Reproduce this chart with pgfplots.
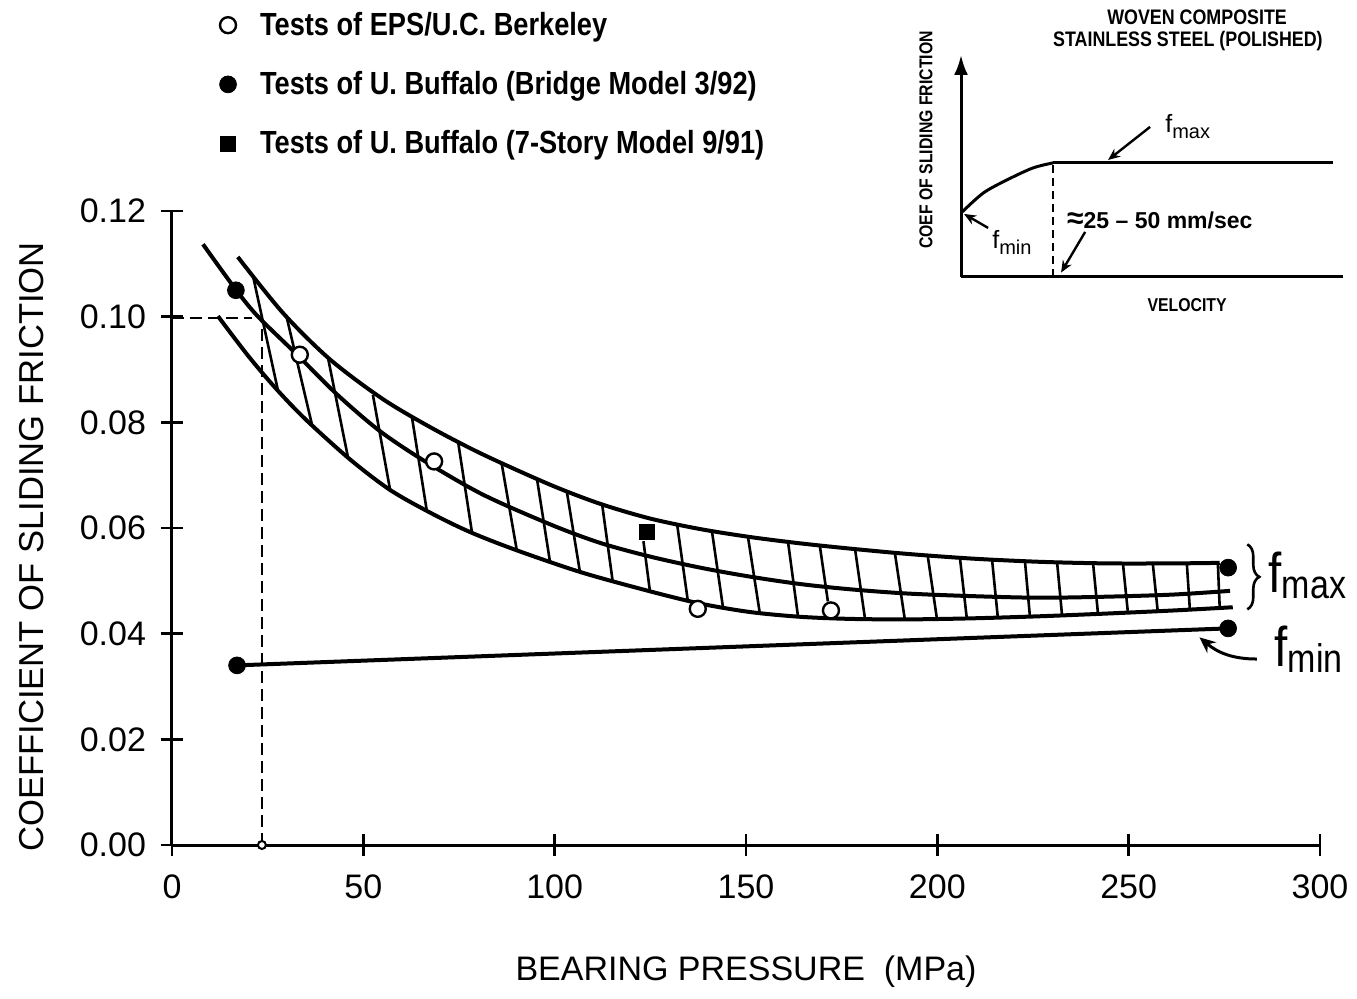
\documentclass[border=0pt]{standalone}
\usepackage{fontspec}
\setmainfont{Liberation Sans}
\newfontfamily\cond[FakeStretch=0.85]{Liberation Sans}
\usepackage{pgfplots}
\pgfplotsset{compat=1.18}
\usetikzlibrary{decorations.pathreplacing,arrows.meta}

\begin{document}
\begin{tikzpicture}[x=1pt,y=1pt]
\useasboundingbox (0,0) rectangle (678.5,499);
% ---------------- main axis ----------------
\begin{axis}[
  at={(86pt,76.5pt)}, anchor=south west,
  scale only axis, width=574pt, height=317pt,
  xmin=0, xmax=300, ymin=0, ymax=0.12,
  axis x line*=bottom, axis y line*=left,
  axis line style={line width=1.5pt},
  tick align=center, major tick length=11pt,
  tick style={line width=1.2pt, black},
  xtick={0,50,100,150,200,250,300},
  ytick={0,0.02,0.04,0.06,0.08,0.10,0.12},
  scaled y ticks=false,
  /pgf/number format/assume math mode=true,
  yticklabel style={/pgf/number format/fixed, /pgf/number format/fixed zerofill, /pgf/number format/precision=2, xshift=-4pt},
  xticklabel style={yshift=-6pt},
  tick label style={font=\fontsize{17}{17}\selectfont},
  clip=false,
  xlabel={BEARING PRESSURE\ \ (MPa)},
  ylabel={COEFFICIENT OF SLIDING FRICTION},
  xlabel style={at={(axis description cs:0.5,-0.2)}, anchor=center, font=\fontsize{17}{17}\selectfont},
  ylabel style={at={(axis description cs:-0.122,0.47)}, anchor=center, font=\fontsize{17.3}{17.3}\selectfont},
  legend style={at={(axis description cs:0.0293,1.327)}, anchor=north west, draw=none, fill=none,
     font=\cond\bfseries\fontsize{16}{16}\selectfont, row sep=12.5pt},
  legend cell align=left,
  legend image code/.code={\path[draw=none,fill=none] (0pt,0pt) -- (22pt,0pt);
     \draw[#1] plot[only marks] coordinates {(8pt,0pt)};},
]
% band curves
\addplot[smooth, line width=2pt, forget plot] coordinates {
 (17.2,0.1113) (29.0,0.1007) (41.3,0.0919) (55.1,0.0844) (68.2,0.0788) (81.3,0.0739)
 (98.8,0.0682) (111.8,0.0646) (124.9,0.0618) (138.0,0.0598) (151.0,0.0583) (164.1,0.0571)
 (177.2,0.0561) (192.1,0.0551) (209.3,0.0542) (226.8,0.0536) (244.3,0.0533) (261.6,0.0533) (273.8,0.0534)};
\addplot[smooth, line width=2pt, forget plot] coordinates {
 (8.1,0.1137) (16.7,0.1051) (22.5,0.1000) (32.7,0.0928) (43.1,0.0853) (54.4,0.0783)
 (66.6,0.0724) (81.3,0.0663) (98.8,0.0607) (111.8,0.0572) (124.9,0.0546) (138.0,0.0525)
 (151.0,0.0508) (164.1,0.0494) (177.2,0.0484) (192.1,0.0476) (209.3,0.0471) (226.8,0.0468)
 (244.3,0.0470) (261.6,0.0474) (276.5,0.0481)};
\addplot[smooth, line width=2pt, forget plot] coordinates {
 (12,0.1001) (20,0.0925) (27.4,0.0862) (35,0.0805) (46.5,0.0730) (57,0.0672) (68,0.0627)
 (78,0.0592) (90,0.0558) (107,0.0516) (125,0.0480) (138,0.0457) (151,0.0441) (164,0.0432)
 (177,0.0428) (192,0.0427) (209,0.0429) (227,0.0433) (244,0.0438) (262,0.0444) (277.2,0.0450)};
% hatch lines
\addplot[line width=1.3pt, unbounded coords=jump, forget plot] coordinates {
 (21.2,0.1076) (27.7,0.0860) (nan,nan)
 (30.0,0.0998) (36.6,0.0795) (nan,nan)
 (40.8,0.0921) (46.0,0.0733) (nan,nan)
 (52.5,0.0852) (57.0,0.0672) (nan,nan)
 (62.7,0.0810) (66.6,0.0632) (nan,nan)
 (74.7,0.0766) (78.4,0.0591) (nan,nan)
 (86.2,0.0720) (90.1,0.0558) (nan,nan)
 (95.4,0.0692) (98.8,0.0535) (nan,nan)
 (103.2,0.0668) (106.6,0.0517) (nan,nan)
 (112.4,0.0645) (115.2,0.0497) (nan,nan)
 (123.2,0.0575) (124.9,0.0480) (nan,nan)
 (132.0,0.0607) (134.8,0.0462) (nan,nan)
 (141.1,0.0594) (144.0,0.0449) (nan,nan)
 (150.5,0.0584) (153.6,0.0439) (nan,nan)
 (161.0,0.0573) (163.6,0.0432) (nan,nan)
 (169.3,0.0566) (171.4,0.0461) (nan,nan)
 (178.5,0.0560) (181.1,0.0428) (nan,nan)
 (188.9,0.0553) (191.5,0.0427) (nan,nan)
 (197.5,0.0547) (199.9,0.0428) (nan,nan)
 (205.9,0.0544) (207.7,0.0429) (nan,nan)
 (214.3,0.0540) (215.8,0.0431) (nan,nan)
 (222.9,0.0537) (224.2,0.0432) (nan,nan)
 (231.3,0.0535) (232.6,0.0434) (nan,nan)
 (240.7,0.0533) (242.0,0.0437) (nan,nan)
 (248.5,0.0533) (249.8,0.0440) (nan,nan)
 (256.3,0.0533) (257.6,0.0442) (nan,nan)
 (265.2,0.0533) (266.0,0.0445) (nan,nan)
 (273.3,0.0534) (273.8,0.0448)};
% f_min line
\addplot[line width=2pt, forget plot] coordinates {(17,0.034) (276,0.041)};
% dashed guides
\addplot[line width=1.2pt, dash pattern=on 6pt off 3pt, forget plot] coordinates {(0,0.0998) (21,0.0998)};
\addplot[line width=1.2pt, dash pattern=on 6pt off 3pt, forget plot] coordinates {(23.5,0) (23.5,0.098)};
\addplot[only marks, mark=*, mark size=2pt, mark options={fill=white, draw=black, line width=1pt}, forget plot] coordinates {(23.5,0)};
% data points
\addplot[only marks, mark=*, mark size=4pt, mark options={fill=white, draw=black, line width=1.2pt}]
 coordinates {(33.4,0.0928) (68.5,0.0726) (137.4,0.0447) (172.2,0.0444)};
\addlegendentry{Tests of EPS/U.C. Berkeley}
\addplot[only marks, mark=*, mark size=4.2pt, black]
 coordinates {(16.7,0.105) (17,0.034) (276,0.0525) (276,0.041)};
\addlegendentry{Tests of U. Buffalo (Bridge Model 3/92)}
\addplot[only marks, mark=square*, mark size=3.8pt, black]
 coordinates {(124,0.0593)};
\addlegendentry{Tests of U. Buffalo (7-Story Model 9/91)}
% right annotations
\draw[line width=1.3pt, decorate, decoration={brace, amplitude=6pt}] (axis cs:281,0.0569) -- (axis cs:281,0.0446);
\node[anchor=base west, inner sep=0pt] at (axis cs:286.5,0.0478)
 {\cond\fontsize{28}{28}\selectfont f\raisebox{-3pt}{\fontsize{20}{20}\selectfont max}};
\node[anchor=base west, inner sep=0pt] at (axis cs:288,0.0338)
 {\cond\fontsize{28}{28}\selectfont f\raisebox{-3pt}{\fontsize{20}{20}\selectfont min}};
\draw[-{Stealth[length=8pt,width=7pt]}, line width=1.5pt] (axis cs:283.5,0.0352) to[out=180,in=-40] (axis cs:268.5,0.0393);
\end{axis}
% ---------------- inset ----------------
\begin{axis}[
  at={(480.5pt,360.5pt)}, anchor=south west,
  scale only axis, width=191pt, height=111pt,
  xmin=0, xmax=1, ymin=0, ymax=1,
  axis x line*=bottom, axis y line*=left,
  axis line style={line width=1.5pt},
  y axis line style={-{Latex[length=10pt,width=7pt]}},
  xtick=\empty, ytick=\empty,
  clip=false,
]
\addplot[smooth, line width=1.5pt] coordinates {(0,0.288) (0.058,0.378) (0.12,0.437) (0.188,0.491) (0.241,0.514)};
\addplot[line width=1.5pt] coordinates {(0.241,0.514) (0.975,0.514)};
\addplot[line width=1.3pt, dash pattern=on 4pt off 2.5pt] coordinates {(0.241,0) (0.241,0.514)};
\draw[-{Stealth[length=6pt,width=5pt]}, line width=1.2pt] (axis cs:0.495,0.676) -- (axis cs:0.385,0.527);
\draw[-{Stealth[length=6pt,width=5pt]}, line width=1.2pt] (axis cs:0.325,0.203) -- (axis cs:0.262,0.02);
\draw[-{Stealth[length=6pt,width=5pt]}, line width=1.2pt] (axis cs:0.071,0.221) -- (axis cs:0.008,0.284);
\node[anchor=base west, inner sep=0pt] at (axis cs:0.534,0.649) {\fontsize{12.5}{12.5}\selectfont f\raisebox{-3pt}{\fontsize{10}{10}\selectfont max}};
\node[anchor=base west, inner sep=0pt] at (axis cs:0.081,0.13) {\fontsize{12.5}{12.5}\selectfont f\raisebox{-3pt}{\fontsize{10}{10}\selectfont min}};
\node[anchor=base west, inner sep=0pt] at (axis cs:0.277,0.22) {\bfseries\fontsize{11.5}{11.5}\selectfont{\fontsize{15}{15}\selectfont ≈}25 – 50 mm/sec};
\node[rotate=90, anchor=center, inner sep=0pt] at (axis cs:-0.092,0.617) {\cond\bfseries\fontsize{9.3}{9.3}\selectfont COEF OF SLIDING FRICTION};
\node[anchor=center, inner sep=0pt] at (axis cs:0.592,-0.126) {\cond\bfseries\fontsize{9.3}{9.3}\selectfont VELOCITY};
\node[anchor=center, inner sep=0pt] at (axis cs:0.618,1.171) {\cond\bfseries\fontsize{10.5}{10.5}\selectfont WOVEN COMPOSITE};
\node[anchor=center, inner sep=0pt] at (axis cs:0.594,1.063) {\cond\bfseries\fontsize{10.5}{10.5}\selectfont STAINLESS STEEL (POLISHED)};
\end{axis}
\end{tikzpicture}
\end{document}
